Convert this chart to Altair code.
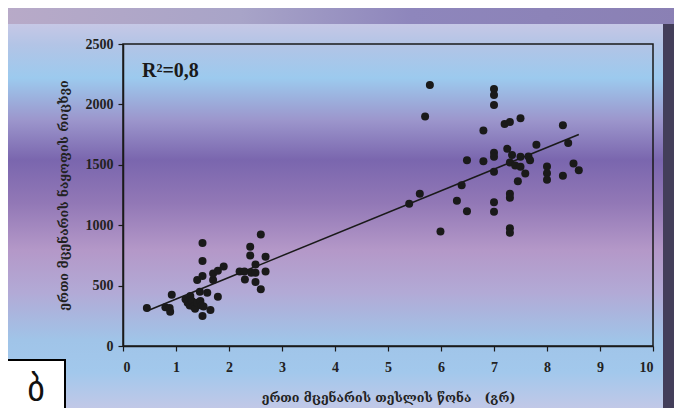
import altair as alt
import pandas as pd

# ---- data ----
x_values = [0.45, 0.80, 0.88, 0.89, 0.92, 1.18, 1.22, 1.27, 1.26, 1.30, 1.33, 1.36, 1.40, 1.45, 1.40,
            1.46, 1.50, 1.50, 1.50, 1.50, 1.48, 1.52, 1.59, 1.65, 1.70, 1.70, 1.79, 1.79, 1.90, 2.20,
            2.29, 2.30, 2.40, 2.40, 2.42, 2.50, 2.50, 2.50, 2.60, 2.60, 2.69, 2.69,
            5.79, 5.70, 7.00, 7.00, 7.00, 6.80, 7.20, 7.30, 7.50, 8.30, 8.40, 7.80, 7.25, 7.00, 7.00,
            7.34, 7.50, 7.65, 7.68, 6.49, 6.80, 7.30, 7.40, 7.50, 7.00, 7.59, 8.00, 8.00, 8.00, 8.30,
            8.50, 8.60, 7.45, 6.39, 5.60, 5.40, 6.30, 6.49, 7.00, 7.00, 7.30, 7.30, 5.99, 7.30, 7.30]
y_values = [314, 320, 314, 284, 425, 386, 359, 413, 336, 372, 326, 309, 546, 450, 359,
            372, 852, 703, 579, 248, 336, 326, 441, 298, 546, 601, 623, 408, 659, 617,
            617, 551, 822, 750, 606, 675, 606, 529, 923, 469, 739, 617,
            2161, 1899, 2128, 2078, 1995, 1783, 1838, 1855, 1885, 1827, 1681, 1665, 1632, 1599, 1566,
            1582, 1566, 1568, 1538, 1538, 1529, 1519, 1494, 1483, 1442, 1428, 1486, 1430, 1376, 1409,
            1510, 1455, 1364, 1331, 1260, 1177, 1202, 1116, 1190, 1111, 1260, 1227, 948, 975, 937]
x_ticks = list(range(0, 11))
y_ticks = [0, 500, 1000, 1500, 2000, 2500]
x_title = "ერთი მცენარის თესლის წონა\u00a0\u00a0\u00a0(გრ)"
y_title = "ერთი მცენარის ნაყოფის რიცხვი"
r2_label = "R²=0,8"
panel_label = "ბ"

df = pd.DataFrame({"x": x_values, "y": y_values})
one = pd.DataFrame({"a": [0]})

W, H = 530, 302

panel_grad = alt.Gradient(
    gradient="linear", x1=0, x2=0, y1=0, y2=1,
    stops=[
        alt.GradientStop(color="#c6c8e6", offset=0.0),
        alt.GradientStop(color="#b2c4e6", offset=0.054),
        alt.GradientStop(color="#9ccaee", offset=0.138),
        alt.GradientStop(color="#9c96cc", offset=0.245),
        alt.GradientStop(color="#7a66ae", offset=0.347),
        alt.GradientStop(color="#9278b6", offset=0.457),
        alt.GradientStop(color="#b498c8", offset=0.577),
        alt.GradientStop(color="#b2aad6", offset=0.686),
        alt.GradientStop(color="#a0c4e8", offset=0.806),
        alt.GradientStop(color="#a2c8ec", offset=0.888),
        alt.GradientStop(color="#c8c8e6", offset=1.0),
    ],
)
top_grad = alt.Gradient(
    gradient="linear", x1=0, x2=1, y1=0, y2=0,
    stops=[
        alt.GradientStop(color="#b8aac8", offset=0.0),
        alt.GradientStop(color="#a8a4c8", offset=0.35),
        alt.GradientStop(color="#8e86bc", offset=0.6),
        alt.GradientStop(color="#8a80b4", offset=1.0),
    ],
)

top_band = alt.Chart(one).mark_rect(color=top_grad).encode(
    x=alt.value(-120), x2=alt.value(560), y=alt.value(-40), y2=alt.value(-20)
)
panel = alt.Chart(one).mark_rect(color=panel_grad).encode(
    x=alt.value(-116), x2=alt.value(540), y=alt.value(-20), y2=alt.value(372)
)
frame = alt.Chart(one).mark_rect(fillOpacity=0, stroke="#1a1a1a", strokeWidth=1.5).encode(
    x=alt.value(0), x2=alt.value(W), y=alt.value(0), y2=alt.value(H)
)

points = alt.Chart(df).mark_circle(size=64, color="#1a1a1a", opacity=1).encode(
    x=alt.X("x:Q", scale=alt.Scale(domain=[0, 10], nice=False),
            axis=alt.Axis(values=x_ticks, format="d", title=x_title, titleX=W / 2, titleY=51,
                          titleBaseline="middle", titleAlign="center", zindex=2)),
    y=alt.Y("y:Q", scale=alt.Scale(domain=[0, 2500], nice=False),
            axis=alt.Axis(values=y_ticks, format="d", title=y_title, titleX=-60, titleY=H / 2,
                          titleBaseline="middle", titleAlign="center", titleAngle=270, zindex=2)),
)

line = alt.Chart(df).transform_regression("x", "y").mark_line(
    color="#1a1a1a", strokeWidth=1.5
).encode(x="x:Q", y="y:Q")

r2 = alt.Chart(one).mark_text(
    text=r2_label, font="Liberation Serif", fontWeight="bold", fontSize=20,
    align="left", baseline="alphabetic", color="#1a1a1a"
).encode(x=alt.value(19), y=alt.value(33))

box = alt.Chart(one).mark_rect(fill="white", stroke="black", strokeWidth=2).encode(
    x=alt.value(-118), x2=alt.value(-58), y=alt.value(316), y2=alt.value(380)
)
box_text = alt.Chart(one).mark_text(
    text=panel_label, font="DejaVu Sans", fontSize=34, align="center",
    baseline="alphabetic", color="#111"
).encode(x=alt.value(-87), y=alt.value(356))

chart = alt.layer(top_band, panel, frame, line, points, r2, box, box_text).properties(
    width=W, height=H,
    padding={"left": 115, "top": 36, "right": 21, "bottom": 62},
    autosize=alt.AutoSizeParams(type="none"),
    background="#433e5a",
).configure_view(
    stroke=None
).configure_axis(
    grid=False,
    domainColor="#1a1a1a", domainWidth=1.5,
    tickColor="#1a1a1a", tickWidth=1.2, tickSize=5,
    labelFont="Liberation Serif", labelFontWeight="bold", labelFontSize=14, labelColor="#222",
    titleFont="DejaVu Serif", titleFontWeight="bold", titleFontSize=12.5, titleColor="#222",
).configure_axisX(labelPadding=9).configure_axisY(labelPadding=5)

chart.save("out.html", embed_options={"renderer": "svg", "actions": False})
